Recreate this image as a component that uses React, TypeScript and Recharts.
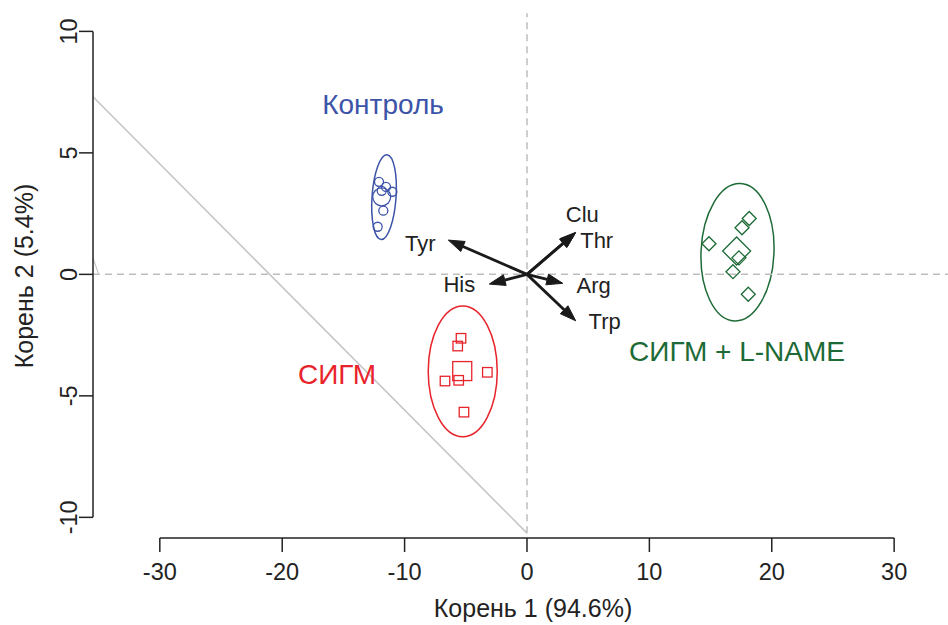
import React from 'react';
import {
  ScatterChart,
  Scatter,
  XAxis,
  YAxis,
  ReferenceLine,
  ReferenceArea,
  ReferenceDot,
} from 'recharts';

// axis ticks
const xTicks = [-30, -20, -10, 0, 10, 20, 30];
const yTicks = [-10, -5, 0, 5, 10];

// group scores (Корень 1, Корень 2)
const kontrolPts = [
  { x: -12.09, y: 3.81 },
  { x: -11.52, y: 3.6 },
  { x: -11.87, y: 3.44 },
  { x: -11.0, y: 3.4 },
  { x: -11.74, y: 2.62 },
  { x: -12.2, y: 1.96 },
];
const kontrolMean = [{ x: -11.87, y: 3.19 }];

const sigmPts = [
  { x: -5.39, y: -2.63 },
  { x: -5.66, y: -2.95 },
  { x: -3.24, y: -4.03 },
  { x: -6.7, y: -4.39 },
  { x: -5.58, y: -4.36 },
  { x: -5.15, y: -5.67 },
];
const sigmMean = [{ x: -5.29, y: -3.98 }];

const lnamePts = [
  { x: 18.16, y: 2.3 },
  { x: 17.57, y: 1.92 },
  { x: 14.87, y: 1.26 },
  { x: 17.32, y: 0.68 },
  { x: 16.83, y: 0.11 },
  { x: 18.08, y: -0.82 },
];
const lnameMean = [{ x: 17.13, y: 0.96 }];

// confidence ellipses: centre, semi-axes, tilt (deg)
const ellipses = [
  { name: 'kontrol', cx: -11.68, cy: 3.18, rx: 0.98, ry: 1.75, tilt: 4 },
  { name: 'sigm', cx: -5.25, cy: -3.99, rx: 2.82, ry: 2.69, tilt: 0 },
  { name: 'lname', cx: 17.2, cy: 0.91, rx: 2.98, ry: 2.83, tilt: 2.5 },
];

// loadings (arrows)
const arrows = [
  { name: 'Tyr', x: -6.43, y: 1.41 },
  { name: 'His', x: -3.08, y: -0.4 },
  { name: 'Clu', x: 3.95, y: 1.7 },
  { name: 'Thr', x: 3.98, y: 1.73 },
  { name: 'Arg', x: 2.92, y: -0.37 },
  { name: 'Trp', x: 3.98, y: -1.91 },
];

// group label anchors
const groupLabels = [
  { name: 'Контроль', x: -11.76, y: 7.02 },
  { name: 'СИГМ', x: -15.52, y: -4.1 },
  { name: 'СИГМ + L-NAME', x: 17.16, y: -3.16 },
];

const X_DOMAIN: [number, number] = [-35.46, 34.4];
const Y_DOMAIN: [number, number] = [-10.85, 10.88];

const FONT = '"Liberation Sans", Arial, Helvetica, sans-serif';
const INK = '#222';
const BLUE = '#3c53a8';
const RED = '#e8232b';
const GREEN = '#1d6a36';
const GRID = '#bdbdbd';

const groupColor: Record<string, string> = {
  'Контроль': BLUE,
  'СИГМ': RED,
  'СИГМ + L-NAME': GREEN,
  kontrol: BLUE,
  sigm: RED,
  lname: GREEN,
};

// pixel offset of each arrow label from its tip
const labelOffset: Record<string, [number, number]> = {
  Tyr: [-28, 3],
  His: [-30, 0],
  Clu: [7, -19],
  Thr: [21, 8],
  Arg: [31, 2],
  Trp: [29, 0],
};

const circle = (r: number) => (p: any) => (
  <circle cx={p.cx} cy={p.cy} r={r} fill="none" stroke={BLUE} strokeWidth={1.3} />
);
const square = (s: number) => (p: any) => (
  <rect x={p.cx - s / 2} y={p.cy - s / 2} width={s} height={s} fill="none" stroke={RED} strokeWidth={1.3} />
);
const diamond = (h: number) => (p: any) => (
  <polygon
    points={`${p.cx},${p.cy - h} ${p.cx + h},${p.cy} ${p.cx},${p.cy + h} ${p.cx - h},${p.cy}`}
    fill="none"
    stroke={GREEN}
    strokeWidth={1.3}
  />
);

const ArrowShape = (props: any) => {
  const { x1, y1, x2, y2, name } = props;
  const ang = Math.atan2(y2 - y1, x2 - x1);
  const len = 16;
  const hw = 5.5;
  const bx = x2 - len * Math.cos(ang);
  const by = y2 - len * Math.sin(ang);
  const px = -Math.sin(ang) * hw;
  const py = Math.cos(ang) * hw;
  const [dx, dy] = labelOffset[name] || [0, 0];
  return (
    <g>
      <line x1={x1} y1={y1} x2={bx} y2={by} stroke="#1a1a1a" strokeWidth={2.8} />
      <polygon
        points={`${x2},${y2} ${bx + px},${by + py} ${bx - px},${by - py}`}
        fill="#1a1a1a"
        stroke="#1a1a1a"
        strokeWidth={1}
      />
      <text
        x={x2 + dx}
        y={y2 + dy + 8}
        textAnchor="middle"
        fontFamily={FONT}
        fontSize={22}
        fill={INK}
      >
        {name}
      </text>
    </g>
  );
};

const EllipseShape = (tilt: number, color: string) => (p: any) => {
  const cx = p.x + p.width / 2;
  const cy = p.y + p.height / 2;
  return (
    <ellipse
      cx={cx}
      cy={cy}
      rx={Math.abs(p.width) / 2}
      ry={Math.abs(p.height) / 2}
      fill="none"
      stroke={color}
      strokeWidth={1.5}
      transform={`rotate(${tilt}, ${cx}, ${cy})`}
    />
  );
};

const XTick = (p: any) => (
  <text x={p.x} y={p.y + 28} textAnchor="middle" fontFamily={FONT} fontSize={23.5} fill={INK}>
    {p.payload.value}
  </text>
);

const YTick = (p: any) => (
  <text
    x={p.x}
    y={p.y}
    textAnchor="middle"
    fontFamily={FONT}
    fontSize={23.5}
    fill={INK}
    transform={`rotate(-90, ${p.x}, ${p.y})`}
  >
    {p.payload.value}
  </text>
);

export default function App() {
  return (
    <div style={{ position: 'absolute', left: 0, top: 0, background: '#fff' }}>
      <ScatterChart width={948} height={625} margin={{ top: 10, right: 0, bottom: 0, left: 0 }}>
        <XAxis
          type="number"
          dataKey="x"
          domain={X_DOMAIN}
          allowDataOverflow
          ticks={xTicks}
          interval={0}
          axisLine={false}
          tickLine={{ stroke: INK, strokeWidth: 1.5 }}
          tickSize={14}
          tickMargin={0}
          tick={<XTick />}
          height={87}
          label={{
            content: () => (
              <text x={533} y={617} textAnchor="middle" fontFamily={FONT} fontSize={25} fill={INK}>
                Корень 1 (94.6%)
              </text>
            ),
          }}
        />
        <YAxis
          type="number"
          dataKey="y"
          domain={Y_DOMAIN}
          allowDataOverflow
          ticks={yTicks}
          interval={0}
          axisLine={false}
          tickLine={{ stroke: INK, strokeWidth: 1.5 }}
          tickSize={14}
          tickMargin={2}
          tick={<YTick />}
          width={93}
          label={{
            content: () => (
              <text
                x={33}
                y={276}
                textAnchor="middle"
                fontFamily={FONT}
                fontSize={25}
                fill={INK}
                transform="rotate(-90, 33, 276)"
              >
                Корень 2 (5.4%)
              </text>
            ),
          }}
        />

        {/* reference lines */}
        <ReferenceLine y={0} stroke={GRID} strokeWidth={1.5} strokeDasharray="7 5" ifOverflow="visible" />
        <ReferenceLine
          segment={[{ x: 0, y: -10.65 }, { x: 0, y: 10.75 }]}
          stroke={GRID}
          strokeWidth={1.5}
          strokeDasharray="7 5"
          ifOverflow="visible"
        />
        <ReferenceLine
          segment={[{ x: X_DOMAIN[0], y: 7.31 }, { x: 0, y: -10.65 }]}
          stroke="#c4c4c4"
          strokeWidth={1.5}
          ifOverflow="visible"
        />
        <ReferenceLine
          segment={[{ x: X_DOMAIN[0], y: 0.67 }, { x: -34.97, y: -0.03 }]}
          stroke="#c4c4c4"
          strokeWidth={1.2}
          ifOverflow="visible"
        />

        {/* R-style axis lines */}
        <ReferenceLine
          segment={[{ x: -30, y: Y_DOMAIN[0] }, { x: 30, y: Y_DOMAIN[0] }]}
          stroke={INK}
          strokeWidth={1.5}
          ifOverflow="visible"
        />
        <ReferenceLine
          segment={[{ x: X_DOMAIN[0], y: -10 }, { x: X_DOMAIN[0], y: 10 }]}
          stroke={INK}
          strokeWidth={1.5}
          ifOverflow="visible"
        />

        {ellipses.map((e) => (
          <ReferenceArea
            key={e.name}
            x1={e.cx - e.rx}
            x2={e.cx + e.rx}
            y1={e.cy - e.ry}
            y2={e.cy + e.ry}
            ifOverflow="visible"
            shape={EllipseShape(e.tilt, groupColor[e.name])}
          />
        ))}

        {arrows.map((a) => (
          <ReferenceLine
            key={a.name}
            segment={[{ x: 0, y: 0 }, { x: a.x, y: a.y }]}
            ifOverflow="visible"
            shape={(p: any) => <ArrowShape {...p} name={a.name} />}
          />
        ))}

        <Scatter data={kontrolPts} shape={circle(4.5)} isAnimationActive={false} />
        <Scatter data={kontrolMean} shape={circle(9)} isAnimationActive={false} />
        <Scatter data={sigmPts} shape={square(9.5)} isAnimationActive={false} />
        <Scatter data={sigmMean} shape={square(19)} isAnimationActive={false} />
        <Scatter data={lnamePts} shape={diamond(7)} isAnimationActive={false} />
        <Scatter data={lnameMean} shape={diamond(14)} isAnimationActive={false} />

        {groupLabels.map((g) => (
          <ReferenceDot
            key={g.name}
            x={g.x}
            y={g.y}
            ifOverflow="visible"
            shape={(p: any) => (
              <text
                x={p.cx}
                y={p.cy + 10}
                textAnchor="middle"
                fontFamily={FONT}
                fontSize={28}
                fill={groupColor[g.name]}
              >
                {g.name}
              </text>
            )}
          />
        ))}
      </ScatterChart>
    </div>
  );
}
